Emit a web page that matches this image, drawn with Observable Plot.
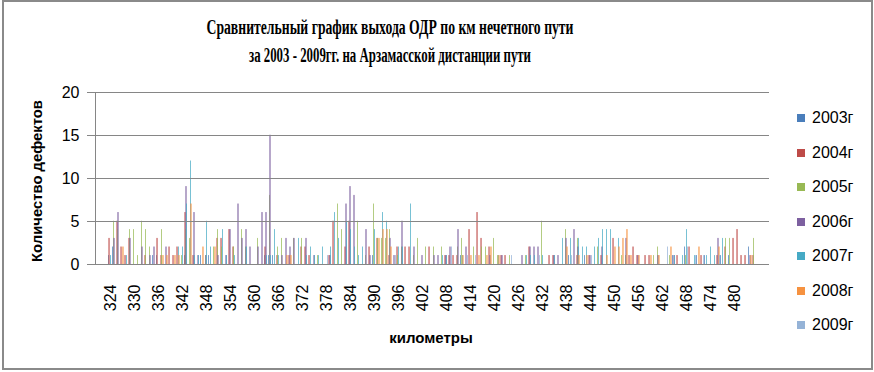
<!DOCTYPE html>
<html>
<head>
<meta charset="utf-8">
<script src="https://cdn.jsdelivr.net/npm/d3@7"></script>
<script src="https://cdn.jsdelivr.net/npm/@observablehq/plot@0.6"></script>
<style>
  html, body { margin: 0; padding: 0; background: #fff; }
  #wrap { position: relative; width: 874px; height: 372px; overflow: hidden; background: #fff; }
  #frame { position: absolute; left: 2px; top: 0px; width: 867px; height: 366px; border: 2px solid #8a8a8a; }
  #plot { position: absolute; left: 0; top: 0; }
  #overlay { position: absolute; left: 0; top: 0; }
  .leg { position: absolute; left: 797px; font: 16px "Liberation Sans", sans-serif; color: #000; line-height: 16px; white-space: nowrap; }
  .leg span.sw { display: inline-block; width: 8px; height: 8px; margin-right: 7px; vertical-align: 1px; }
</style>
</head>
<body>
<div id="wrap">
  <div id="frame"></div>
  <div id="plot"></div>
  <svg id="overlay" width="874" height="372"></svg>
  <div id="legend"></div>
</div>
<script>
// ---- categories ----
const kms = d3.range(324, 486);          // км 324 … 485
const labelKms = d3.range(324, 486, 6);  // подписи оси: каждые 6 км
const years = ["2003г", "2004г", "2005г", "2006г", "2007г", "2008г", "2009г"];
const colors = ["#4A7EBB", "#BE4B48", "#98B954", "#7D60A0", "#46AAC5", "#F69240", "#95B3D7"];

// ---- series values (defects per km, 324..485) ----
const v2003 = [
  1,2,0,0,0,0,0,0,0,0,  0,1,1,0,0,0,0,0,0,1,  0,0,0,1,0,1,0,0,0,0,  0,0,0,0,0,0,0,0,0,1,
  1,1,0,0,0,0,0,0,0,0,  0,0,0,0,0,0,0,0,0,0,  0,0,0,0,0,0,1,0,0,0,  0,0,0,0,0,0,0,0,0,0,
  0,0,0,0,0,0,0,0,1,0,  0,0,0,0,0,0,0,0,0,0,  0,0,0,0,0,0,0,0,0,0,  0,0,0,0,0,1,0,0,0,1,
  0,0,0,0,0,0,0,0,0,0,  0,0,0,0,0,0,0,0,0,0,  0,1,0,0,2,0,0,1,0,1,  0,0,0,1,0,1,0,0,0,0,
  2,0];
const v2004 = [
  3,0,5,2,1,3,0,0,0,1,  0,0,3,1,0,2,1,2,0,6,  0,1,0,0,0,0,0,3,3,0,  4,2,0,0,0,0,0,0,0,2,
  0,0,1,0,0,1,0,0,2,2,  1,0,0,0,0,1,5,0,0,2,  5,0,0,0,0,2,0,3,0,0,  1,0,2,0,2,2,0,0,0,0,
  2,0,0,0,1,1,1,1,0,0,  4,0,6,3,0,2,0,0,1,1,  0,0,0,0,0,2,0,0,0,0,  1,1,0,0,0,0,0,1,0,0,
  1,0,0,1,0,0,3,0,0,0,  1,2,1,0,1,1,0,0,0,0,  0,0,1,0,0,2,0,0,1,0,  0,0,1,0,2,0,3,4,1,1,
  0,1];
const v2005 = [
  0,5,4,0,0,4,4,1,5,4,  2,0,0,4,0,0,0,0,1,4,  3,0,0,0,1,0,2,4,2,0,  0,2,0,4,2,0,0,3,0,0,
  8,0,2,3,0,0,3,0,3,0,  0,0,1,0,0,0,0,7,4,0,  0,0,5,0,1,0,7,3,3,3,  4,0,1,2,0,0,1,3,0,2,
  0,2,0,2,0,0,0,2,3,0,  0,2,0,2,2,0,3,1,0,0,  1,0,0,0,1,0,0,0,5,0,  0,0,0,0,4,0,0,3,0,0,
  0,0,2,0,0,0,0,0,1,1,  0,0,0,0,0,0,1,2,0,0,  1,0,0,0,1,0,0,0,0,0,  0,0,0,0,3,3,0,0,0,0,
  0,3];
const v2006 = [
  0,3,6,0,0,3,0,0,2,0,  1,2,0,0,2,0,0,0,0,9,  0,6,1,0,1,0,0,1,0,1,  4,0,7,3,4,2,0,2,6,6,
  15,0,0,1,3,2,3,0,0,3, 0,1,0,0,0,1,0,0,0,7,  9,8,0,0,4,1,0,0,0,0,  3,1,0,5,0,0,2,0,1,0,
  0,1,1,0,1,2,0,4,0,2,  0,0,0,0,0,1,0,0,1,0,  0,0,0,1,0,2,2,2,0,0,  0,1,1,0,3,0,4,2,0,0,
  1,0,0,2,0,0,0,0,0,3,  0,0,1,0,0,0,0,1,0,0,  0,1,0,0,0,0,0,0,0,0,  0,0,3,0,0,0,0,0,0,0,
  1,0];
const v2007 = [
  1,0,0,0,1,0,0,0,0,0,  0,0,0,0,0,0,0,2,2,7,  12,1,1,0,5,2,0,0,4,1, 0,1,0,0,2,0,0,0,0,1,
  1,4,1,0,0,0,0,3,0,1,  2,1,1,2,0,2,6,3,0,5,  4,2,1,2,0,0,4,0,6,5,  0,0,2,2,0,7,0,0,0,0,
  0,0,0,1,1,0,0,0,1,0,  0,0,0,0,0,0,0,1,0,0,  0,0,0,0,1,1,1,0,1,0,  0,1,0,3,0,3,0,3,2,2,
  0,2,3,4,4,4,0,3,0,0,  0,0,0,0,0,0,0,0,0,0,  0,1,0,1,4,0,1,0,0,1,  2,1,0,3,0,0,0,0,0,0,
  0,0];
const v2008 = [
  0,0,0,2,0,0,0,0,0,0,  0,0,0,1,1,0,1,1,0,0,  7,0,0,2,0,0,2,0,0,0,  0,0,0,0,0,0,0,0,0,0,
  0,0,0,0,1,1,0,0,0,0,  0,0,0,0,0,0,0,0,0,0,  0,0,0,0,0,0,0,3,4,4,  2,0,0,0,0,0,0,0,0,0,
  0,0,0,0,0,0,0,0,1,0,  1,0,1,0,1,2,0,1,0,0,  0,0,0,0,0,0,0,0,0,0,  0,0,0,0,2,0,0,1,0,1,
  0,0,0,0,1,0,2,2,3,4,  1,0,1,0,0,1,0,1,0,0,  2,0,0,0,0,0,0,2,0,0,  0,0,2,0,0,0,0,0,0,0,
  1,0];
const v2009 = [
  0,0,0,0,0,0,0,0,0,0,  0,0,0,0,0,0,0,0,0,0,  0,0,0,0,0,0,0,0,0,0,  0,0,0,0,0,0,0,0,0,0,
  0,0,0,0,0,0,0,0,0,0,  0,0,0,0,1,0,0,0,0,0,  0,0,0,0,0,0,0,0,0,0,  0,1,0,0,0,0,0,0,0,0,
  0,0,0,0,0,2,0,0,0,1,  0,1,0,0,0,0,0,0,0,0,  1,0,0,0,0,0,0,1,0,0,  0,0,0,0,0,1,0,0,0,0,
  1,0,0,0,0,0,0,0,0,0,  0,0,0,0,0,0,0,0,0,2,  0,0,0,0,2,0,1,0,1,0,  0,0,1,0,0,0,0,0,0,0,
  0,0];
const yTicks = [0, 5, 10, 15, 20];
const gridTicks = [5, 10, 15, 20];

const series = [v2003, v2004, v2005, v2006, v2007, v2008, v2009];

// layout
const W = 874, H = 372, mL = 95, mR = 105, mT = 92, mB = 108;
const grid = "#868686";
// Excel-like clustered columns: 7 bars + 150% gap per category
const step = (W - mL - mR) / kms.length;
const unit = step / (years.length + 1.5);

const barMarks = years.map((yr, i) => {
  const rows = kms.map((km, j) => ({km, value: series[i][j]})).filter(d => d.value > 0);
  const left = unit * (0.75 + i);
  return Plot.barY(rows, {
    x: "km", y: "value",
    fill: colors[i], stroke: colors[i], strokeWidth: 0.6,
    insetLeft: left, insetRight: step - left - unit
  });
});

const chart = Plot.plot({
  width: W,
  height: H,
  marginTop: mT,
  marginBottom: mB,
  marginLeft: mL,
  marginRight: mR,
  style: {fontFamily: "'Liberation Sans', sans-serif", fontSize: "16px", color: "#000"},
  x: {domain: kms, padding: 0, label: null},
  y: {domain: [0, 20], label: null},
  marks: [
    Plot.ruleY(gridTicks, {stroke: grid, strokeWidth: 1}),
    ...barMarks,
    Plot.ruleY([0], {stroke: grid, strokeWidth: 1}),
    Plot.axisY({ticks: yTicks, tickSize: 8, tickPadding: 8, stroke: grid, label: null, fontSize: 16}),
    Plot.axisX({anchor: "bottom", ticks: labelKms, tickRotate: -90, tickSize: 0, tickPadding: 20, label: null, fontSize: 16})
  ]
});
document.getElementById("plot").appendChild(chart);

// ---- overlay: gridlines & value axis line from Plot's own y scale ----
const ov = d3.select("#overlay");
const ys = chart.scale("y");
const gl = ov.append("g").attr("stroke", grid).attr("stroke-width", 1).attr("shape-rendering", "crispEdges");
gridTicks.forEach(v => {
  const y = Math.round(ys.apply(v)) + 0.5;
  gl.append("line").attr("x1", mL - 8).attr("x2", W - mR).attr("y1", y).attr("y2", y);
});
gl.append("line")
  .attr("x1", mL + 0.5).attr("x2", mL + 0.5)
  .attr("y1", Math.round(ys.apply(20))).attr("y2", Math.round(ys.apply(0)) + 1);

// ---- overlay texts: title, axis titles ----
const titleLines = [
  {text: "Сравнительный график выхода ОДР по км нечетного пути", y: 34, len: 367},
  {text: "за 2003 - 2009гг. на Арзамасской дистанции пути", y: 62, len: 282}
];
titleLines.forEach(t => {
  ov.append("text")
    .attr("x", 390).attr("y", t.y)
    .attr("text-anchor", "middle")
    .attr("textLength", t.len).attr("lengthAdjust", "spacingAndGlyphs")
    .style("font", "bold 20px 'Liberation Serif', serif")
    .text(t.text);
});
ov.append("text")
  .attr("transform", "translate(38,181) rotate(-90)")
  .attr("text-anchor", "middle").attr("dominant-baseline", "middle")
  .attr("textLength", 162).attr("lengthAdjust", "spacingAndGlyphs")
  .style("font", "bold 15px 'Liberation Sans', sans-serif")
  .text("Количество дефектов");
ov.append("text")
  .attr("x", 431).attr("y", 343)
  .attr("text-anchor", "middle")
  .style("font", "bold 15px 'Liberation Sans', sans-serif")
  .text("километры");

// ---- legend ----
const leg = document.getElementById("legend");
years.forEach((yr, i) => {
  const d = document.createElement("div");
  d.className = "leg";
  d.style.top = (110 + i * 34.5) + "px";
  d.innerHTML = `<span class="sw" style="background:${colors[i]}"></span>${yr}`;
  leg.appendChild(d);
});
</script>
</body>
</html>
